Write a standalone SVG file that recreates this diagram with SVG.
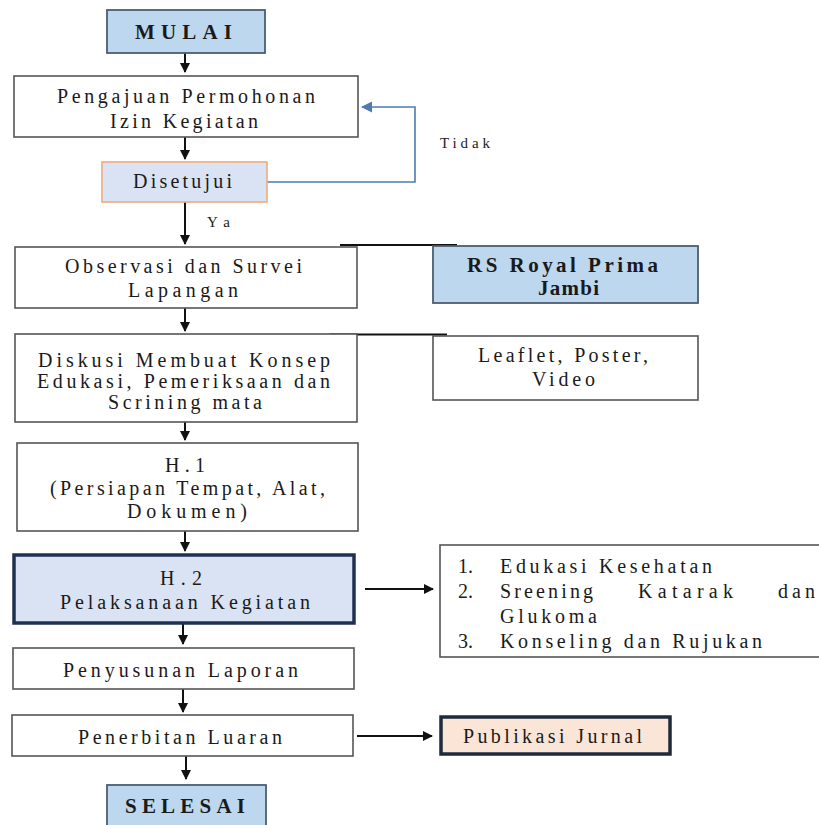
<svg xmlns="http://www.w3.org/2000/svg" width="819" height="825" viewBox="0 0 819 825">
<style>
text{font-family:'Liberation Serif','DejaVu Serif',serif;font-size:20px;fill:#1a1a1a}
.b{font-weight:bold;font-size:21px}
.box{fill:#ffffff;stroke:#555555;stroke-width:1.6}
.term{fill:#bdd7ee;stroke:#4d5d70;stroke-width:1.8}
.conn{stroke:#111111;stroke-width:2;fill:none}
</style>
<defs>
<marker id="ah" viewBox="0 0 10 10" refX="9" refY="5" markerWidth="5" markerHeight="5" orient="auto" markerUnits="strokeWidth"><path d="M0,0 L10,5 L0,10 z" fill="#111"/></marker>
<marker id="ahb" viewBox="0 0 10 10" refX="9" refY="5" markerWidth="7" markerHeight="7" orient="auto" markerUnits="strokeWidth"><path d="M0,0 L10,5 L0,10 z" fill="#4f7bb0"/></marker>
</defs>
<rect width="819" height="825" fill="#ffffff"/>
<g id="connectors">
<line class="conn" x1="185" y1="53" x2="185" y2="72" marker-end="url(#ah)"/>
<line class="conn" x1="185" y1="137" x2="185" y2="159" marker-end="url(#ah)"/>
<line class="conn" x1="185" y1="202" x2="185" y2="244" marker-end="url(#ah)"/>
<line class="conn" x1="185" y1="308" x2="185" y2="331" marker-end="url(#ah)"/>
<line class="conn" x1="185" y1="422" x2="185" y2="440" marker-end="url(#ah)"/>
<line class="conn" x1="185" y1="531" x2="185" y2="551" marker-end="url(#ah)"/>
<line class="conn" x1="183" y1="624" x2="183" y2="644" marker-end="url(#ah)"/>
<line class="conn" x1="183" y1="689" x2="183" y2="712" marker-end="url(#ah)"/>
<line class="conn" x1="186" y1="756" x2="186" y2="779" marker-end="url(#ah)"/>
<line class="conn" x1="365" y1="589" x2="433" y2="589" stroke-width="1.6" marker-end="url(#ah)"/>
<line class="conn" x1="357" y1="736" x2="432" y2="736" stroke-width="1.6" marker-end="url(#ah)"/>
<line class="conn" x1="340" y1="245" x2="457" y2="245" stroke-width="1.6"/>
<line class="conn" x1="330" y1="334.5" x2="447" y2="334.5" stroke-width="1.6"/>
<polyline points="267,182 415,182 415,107 362,107" fill="none" stroke="#4f7bb0" stroke-width="1.6" marker-end="url(#ahb)"/>
<text x="440" y="148" style="font-size:15px" textLength="50" lengthAdjust="spacing">Tidak</text>
<text x="207" y="227" style="font-size:15px" textLength="23" lengthAdjust="spacing">Ya</text>
</g>
<g id="mulai">
<rect class="term" x="107" y="10" width="158" height="43"/>
<text class="b" x="135" y="39" textLength="97" lengthAdjust="spacing">MULAI</text>
</g>
<g id="pengajuan">
<rect class="box" x="14" y="76" width="344" height="61"/>
<text x="57" y="103" textLength="258" lengthAdjust="spacing">Pengajuan Permohonan</text>
<text x="110" y="128" textLength="148" lengthAdjust="spacing">Izin Kegiatan</text>
</g>
<g id="disetujui">
<rect x="102" y="162" width="165" height="40" fill="#dae3f3" stroke="#f0a97c" stroke-width="1.6"/>
<text x="133" y="188" textLength="99" lengthAdjust="spacing">Disetujui</text>
</g>
<g id="observasi">
<rect class="box" x="15" y="247" width="342" height="61"/>
<text x="65" y="273" textLength="237" lengthAdjust="spacing">Observasi dan Survei</text>
<text x="128" y="297" textLength="110" lengthAdjust="spacing">Lapangan</text>
</g>
<g id="rs">
<rect class="term" x="433" y="246" width="265" height="57" stroke="#555"/>
<text class="b" x="467" y="272" textLength="191" lengthAdjust="spacing">RS Royal Prima</text>
<text class="b" x="538" y="295" textLength="61" lengthAdjust="spacing">Jambi</text>
</g>
<g id="diskusi">
<rect class="box" x="15" y="334" width="342" height="88"/>
<text x="38" y="367" textLength="292" lengthAdjust="spacing">Diskusi Membuat Konsep</text>
<text x="37" y="388" textLength="293" lengthAdjust="spacing">Edukasi, Pemeriksaan dan</text>
<text x="108" y="409" textLength="154" lengthAdjust="spacing">Scrining mata</text>
</g>
<g id="leaflet">
<rect class="box" x="433" y="336" width="265" height="64"/>
<text x="478" y="362" textLength="170" lengthAdjust="spacing">Leaflet, Poster,</text>
<text x="532" y="386" textLength="63" lengthAdjust="spacing">Video</text>
</g>
<g id="h1">
<rect class="box" x="17" y="443" width="341" height="88"/>
<text x="165" y="472" textLength="40" lengthAdjust="spacing">H.1</text>
<text x="50" y="495" textLength="275" lengthAdjust="spacing">(Persiapan Tempat, Alat,</text>
<text x="127" y="518" textLength="120" lengthAdjust="spacing">Dokumen)</text>
</g>
<g id="h2">
<rect x="14" y="555" width="340" height="68" fill="#dae3f3" stroke="#1f3050" stroke-width="3.5"/>
<text x="160" y="585" textLength="42" lengthAdjust="spacing">H.2</text>
<text x="60" y="609" textLength="250" lengthAdjust="spacing">Pelaksanaan Kegiatan</text>
</g>
<g id="kegiatan-list">
<rect class="box" x="440" y="545" width="395" height="112"/>
<text x="458" y="573">1.</text>
<text x="500" y="573" textLength="212" lengthAdjust="spacing">Edukasi Kesehatan</text>
<text x="458" y="598">2.</text>
<text x="500" y="598" textLength="93" lengthAdjust="spacing">Sreening</text>
<text x="638" y="598" textLength="95" lengthAdjust="spacing">Katarak</text>
<text x="778" y="598" textLength="37" lengthAdjust="spacing">dan</text>
<text x="500" y="623" textLength="97" lengthAdjust="spacing">Glukoma</text>
<text x="458" y="648">3.</text>
<text x="500" y="648" textLength="262" lengthAdjust="spacing">Konseling dan Rujukan</text>
</g>
<g id="penyusunan">
<rect class="box" x="13" y="648" width="341" height="41"/>
<text x="63" y="677" textLength="235" lengthAdjust="spacing">Penyusunan Laporan</text>
</g>
<g id="penerbitan">
<rect class="box" x="12" y="715" width="341" height="41"/>
<text x="78" y="744" textLength="204" lengthAdjust="spacing">Penerbitan Luaran</text>
</g>
<g id="publikasi">
<rect x="441" y="717" width="229" height="37" fill="#fbe5d6" stroke="#1f2a3c" stroke-width="3.5"/>
<text x="463" y="743" textLength="179" lengthAdjust="spacing">Publikasi Jurnal</text>
</g>
<g id="selesai">
<rect class="term" x="107" y="785" width="159" height="50"/>
<text class="b" x="125" y="813" textLength="120" lengthAdjust="spacing">SELESAI</text>
</g>
</svg>
